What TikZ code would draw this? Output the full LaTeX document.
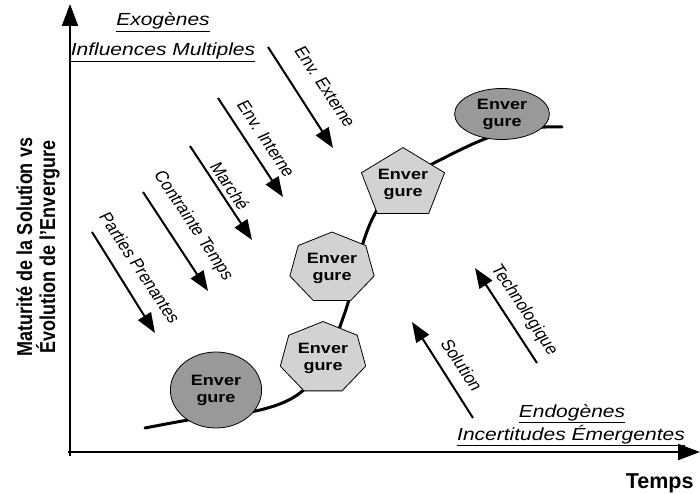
\documentclass[tikz,border=0pt]{standalone}
\usepackage{fontspec}
\setmainfont{Liberation Sans}
\usetikzlibrary{arrows.meta,shapes.geometric,backgrounds}

\begin{document}
\begin{tikzpicture}[x=1pt,y=-1pt,
  axis/.style={line width=2pt,-{Triangle[length=22pt,width=16pt]}},
  force/.style={line width=2pt,-{Triangle[length=20pt,width=15pt]}},
  forcelabel/.style={font=\fontsize{15.5}{17}\selectfont, xscale=1.2, rotate=-61, inner sep=0pt},
  heading/.style={font=\fontsize{17.5}{21}\selectfont\itshape, xscale=1.2, inner sep=0pt, anchor=base},
  span/.style={draw=black, line width=0.8pt, font=\fontsize{15}{17}\selectfont\bfseries,
    align=center, xscale=1.2, inner sep=0pt},
  light/.style={span, fill=gray!35},
  dark/.style={span, fill=gray!80},
  growth/.style={line width=3pt, line cap=round}
]
\useasboundingbox (0,0) rectangle (700,494);

% axes
\coordinate (ybottom) at (70,456);
\coordinate (ytop) at (70,4);
\coordinate (origin) at (68,452);
\coordinate (xend) at (700,452);
\draw[axis] (ybottom) -- (ytop);
\draw[axis] (origin) -- (xend);

\node[xscale=1.2, rotate=90, font=\fontsize{18}{19}\selectfont\bfseries, align=center] (ylabel)
  at (38,247) {Maturité de la Solution vs\\Évolution de l'Envergure};
\node[font=\fontsize{21.5}{23}\selectfont\bfseries, anchor=base east] (xlabel)
  at (697,488) {Temps};

% external influences
\node[heading] (exo) at (163,26) {\underline{Exogènes}};
\node[heading] (multi) at (163,56) {\underline{Influences Multiples}};

\coordinate (ext1) at (268,47);  \coordinate (ext2) at (333,148);
\coordinate (int1) at (218,98);  \coordinate (int2) at (283,197);
\coordinate (mar1) at (190,146); \coordinate (mar2) at (252,240);
\coordinate (tem1) at (143,192); \coordinate (tem2) at (208,291);
\coordinate (par1) at (92,232);  \coordinate (par2) at (155,333);
\draw[force] (ext1) -- (ext2);
\draw[force] (int1) -- (int2);
\draw[force] (mar1) -- (mar2);
\draw[force] (tem1) -- (tem2);
\draw[force] (par1) -- (par2);
\node[forcelabel] (lext) at (325,87)  {Env. Externe};
\node[forcelabel] (lint) at (266,139) {Env. Interne};
\node[forcelabel] (lmar) at (230,186) {Marché};
\node[forcelabel] (ltem) at (193,226) {Contrainte Temps};
\node[forcelabel] (lpar) at (140,268) {Parties Prenantes};

% internal uncertainties
\coordinate (sol1) at (473,418); \coordinate (sol2) at (412,322);
\coordinate (tec1) at (537,363); \coordinate (tec2) at (475,268);
\draw[force] (sol1) -- (sol2);
\draw[force] (tec1) -- (tec2);
\node[forcelabel] (lsol) at (462,365) {Solution};
\node[forcelabel] (ltec) at (524,310) {Technologique};

\node[heading] (endo) at (572,417) {\underline{Endogènes}};
\node[heading] (incert) at (571,440) {\underline{Incertitudes Émergentes}};

% stages of the span
\node[dark, circle, minimum size=76pt] (s1) at (216,390) {Enver\\gure};
\node[light, regular polygon, regular polygon sides=7, minimum size=73pt] (s2) at (323,358) {Enver\\gure};
\node[light, regular polygon, regular polygon sides=7, minimum size=72pt] (s3) at (332,268) {Enver\\gure};
\node[light, regular polygon, regular polygon sides=5, minimum size=72pt] (s4) at (403,184) {Enver\\gure};
\node[dark, ellipse, minimum width=79pt, minimum height=51pt] (s5) at (502,114) {Enver\\gure};

% growth curve behind the stages
\coordinate (g1) at (145,428);
\coordinate (g2) at (200,418);
\coordinate (g3) at (260,410);
\coordinate (g4) at (300,393);
\coordinate (g5) at (326,360);
\coordinate (g6) at (343,318);
\coordinate (g7) at (353,285);
\coordinate (g8) at (363,243);
\coordinate (g9) at (377,210);
\coordinate (g10) at (398,184);
\coordinate (g11) at (440,160);
\coordinate (g12) at (490,137);
\coordinate (g13) at (532,128);
\coordinate (g14) at (562,127);
\begin{scope}[on background layer]
\draw[growth] plot[smooth, tension=0.6] coordinates {(g1) (g2) (g3) (g4) (g5) (g6) (g7) (g8) (g9) (g10) (g11) (g12) (g13) (g14)};
\end{scope}
\end{tikzpicture}
\end{document}
